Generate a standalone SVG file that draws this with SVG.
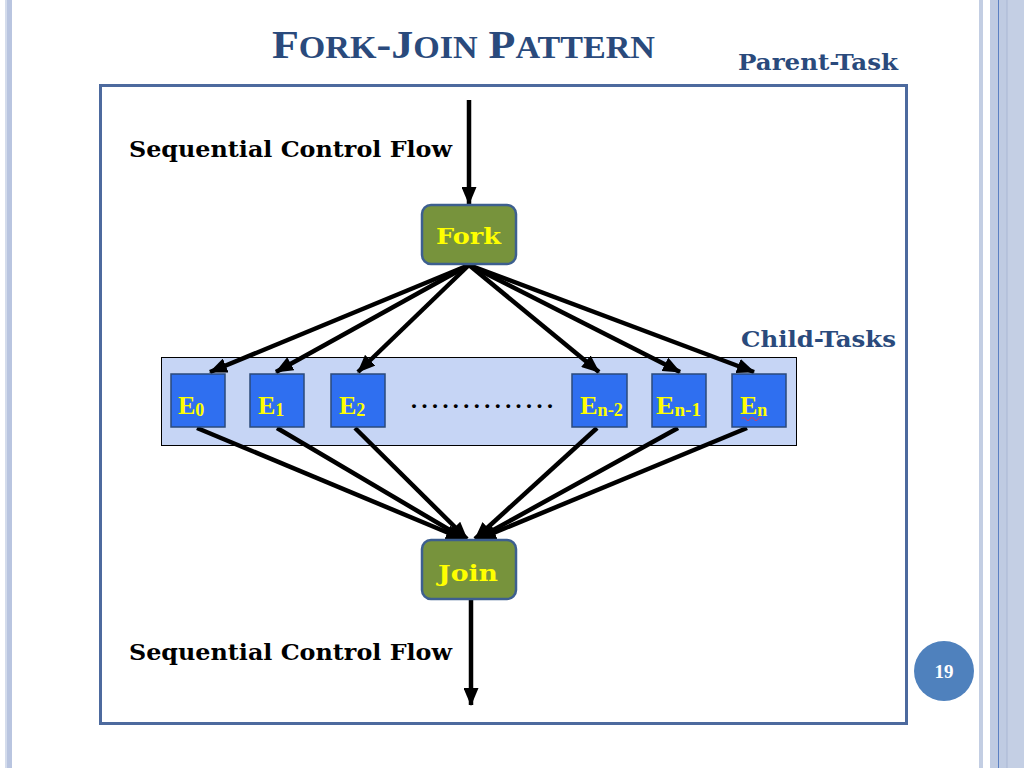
<svg xmlns="http://www.w3.org/2000/svg" width="1024" height="768" viewBox="0 0 1024 768">
<defs>
<style>
.serif{font-family:"Liberation Serif","DejaVu Serif",serif;font-weight:bold}
.wide{font-family:"DejaVu Serif","Liberation Serif",serif;font-weight:bold}
.blueTxt{fill:#2a4a7c}
.lbl{font-size:22px;fill:#000}
.ctrl{fill:#77933c;stroke:#3d5f8f;stroke-width:2.5}
.ctrlTxt{font-size:23px;fill:#ffff00}
.ebox{fill:#2f6ff0;stroke:#2b4a7a;stroke-width:1.5}
.eTxt{font-size:26px;fill:#ffff00}
.eSub{font-size:18px}
.conn{stroke:#000;stroke-width:4.5;fill:none;marker-end:url(#ah)}
</style>
<marker id="ah" markerUnits="userSpaceOnUse" viewBox="0 0 18 15" refX="17" refY="7.5" markerWidth="18" markerHeight="15" orient="auto">
<path d="M0,0 L18,7.5 L0,15 z" fill="#000"/>
</marker>
</defs>
<rect width="1024" height="768" fill="#fff"/>
<!-- page side decorations -->
<rect x="5" y="0" width="2" height="768" fill="#d4dcec"/>
<rect x="7" y="0" width="5" height="768" fill="#b9c5e0"/>
<rect x="979" y="0" width="4" height="768" fill="#c3cee3"/>
<rect x="990" y="0" width="34" height="768" fill="#bfcbe2"/>
<rect x="1007" y="0" width="17" height="768" fill="#c4cfe4"/>
<line x1="998.5" y1="0" x2="998.5" y2="768" stroke="#5b80c2" stroke-width="1"/>
<line x1="1007" y1="0" x2="1007" y2="768" stroke="#a9b7d4" stroke-width="1"/>

<!-- title -->
<text class="serif blueTxt" x="272" y="58" textLength="383" lengthAdjust="spacingAndGlyphs"><tspan font-size="40">F</tspan><tspan font-size="31">ORK</tspan><tspan font-size="40">-J</tspan><tspan font-size="31">OIN</tspan><tspan font-size="40"> P</tspan><tspan font-size="31">ATTERN</tspan></text>
<text class="wide blueTxt" x="738" y="70" font-size="22" textLength="160" lengthAdjust="spacingAndGlyphs">Parent-Task</text>

<!-- parent frame -->
<rect x="100.5" y="85.5" width="806" height="638" fill="none" stroke="#4d6a9e" stroke-width="3"/>

<text class="wide lbl" x="129" y="157" textLength="323" lengthAdjust="spacingAndGlyphs">Sequential Control Flow</text>
<text class="wide lbl" x="129" y="660" textLength="323" lengthAdjust="spacingAndGlyphs">Sequential Control Flow</text>
<text class="wide blueTxt" x="741" y="347" font-size="22" textLength="155" lengthAdjust="spacingAndGlyphs">Child-Tasks</text>

<!-- child band -->
<rect id="child-band" x="161.5" y="357.5" width="635" height="88" fill="#c6d5f5" stroke="#000" stroke-width="1"/>

<!-- connectors -->
<g id="connectors">
<line class="conn" x1="469" y1="100" x2="469" y2="204"/>
<line class="conn" x1="469" y1="265" x2="210" y2="372"/>
<line class="conn" x1="469" y1="265" x2="276" y2="372"/>
<line class="conn" x1="469" y1="265" x2="358" y2="372"/>
<line class="conn" x1="469" y1="265" x2="599" y2="372"/>
<line class="conn" x1="469" y1="265" x2="680" y2="372"/>
<line class="conn" x1="469" y1="265" x2="754" y2="372"/>
<line class="conn" x1="197" y1="428" x2="463" y2="539"/>
<line class="conn" x1="277" y1="428" x2="465" y2="539"/>
<line class="conn" x1="355" y1="428" x2="467" y2="539"/>
<line class="conn" x1="597" y1="428" x2="475" y2="539"/>
<line class="conn" x1="678" y1="428" x2="477" y2="539"/>
<line class="conn" x1="747" y1="428" x2="479" y2="539"/>
<line class="conn" x1="471" y1="600" x2="471" y2="705"/>
</g>

<!-- fork / join -->
<g id="fork">
<rect class="ctrl" x="422" y="205" width="94" height="59" rx="9"/>
<text class="wide ctrlTxt" x="436" y="244" textLength="65" lengthAdjust="spacingAndGlyphs">Fork</text>
</g>
<g id="join">
<rect class="ctrl" x="422" y="540" width="94" height="59" rx="9"/>
<text class="wide ctrlTxt" x="438" y="581" textLength="60" lengthAdjust="spacingAndGlyphs">Join</text>
</g>

<!-- child tasks -->
<g id="E0"><rect class="ebox" x="171" y="374" width="54" height="53"/><text class="serif eTxt" x="178" y="414">E<tspan class="eSub" dy="2">0</tspan></text></g>
<g id="E1"><rect class="ebox" x="250" y="374" width="54" height="53"/><text class="serif eTxt" x="258" y="414">E<tspan class="eSub" dy="2">1</tspan></text></g>
<g id="E2"><rect class="ebox" x="331" y="374" width="54" height="53"/><text class="serif eTxt" x="339" y="414">E<tspan class="eSub" dy="2">2</tspan></text></g>
<g id="En-2"><rect class="ebox" x="572" y="374" width="55" height="53"/><text class="serif eTxt" x="580" y="414" textLength="43" lengthAdjust="spacingAndGlyphs">E<tspan class="eSub" dy="2">n-2</tspan></text></g>
<g id="En-1"><rect class="ebox" x="652" y="374" width="54" height="53"/><text class="serif eTxt" x="656" y="414" textLength="45" lengthAdjust="spacingAndGlyphs">E<tspan class="eSub" dy="2">n-1</tspan></text></g>
<g id="En"><rect class="ebox" x="732" y="374" width="54" height="53"/><text class="serif eTxt" x="740" y="414">E<tspan class="eSub" dy="2">n</tspan></text>
<path d="M742,419 q2,-3 4,0 t4,0 t4,0 t4,0 t4,0" fill="none" stroke="#d04060" stroke-width="1.2"/></g>

<text class="serif" x="411" y="408" font-size="24" fill="#000" textLength="142" lengthAdjust="spacing">..............</text>

<!-- page number -->
<circle cx="944" cy="671" r="30" fill="#4f81bd"/>
<text class="serif" x="944" y="678" font-size="19" fill="#fff" text-anchor="middle">19</text>
</svg>
